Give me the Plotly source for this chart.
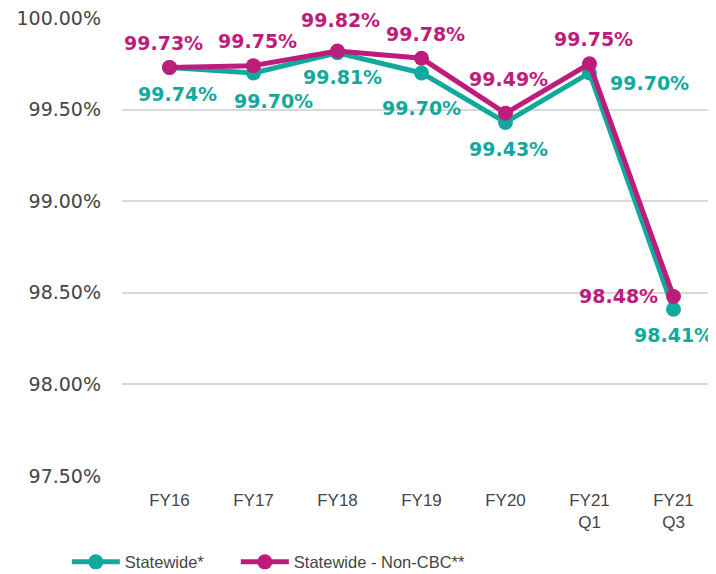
import plotly.graph_objects as go

categories = ["FY16", "FY17", "FY18", "FY19", "FY20", "FY21<br>Q1", "FY21<br>Q3"]
statewide = [99.73, 99.70, 99.81, 99.70, 99.43, 99.70, 98.41]
statewide_labels = ["99.74%", "99.70%", "99.81%", "99.70%", "99.43%", "99.70%", "98.41%"]
noncbc = [99.73, 99.74, 99.82, 99.78, 99.48, 99.75, 98.48]
noncbc_labels = ["99.73%", "99.75%", "99.82%", "99.78%", "99.49%", "99.75%", "98.48%"]
y_ticks = [97.5, 98.0, 98.5, 99.0, 99.5, 100.0]

TEAL = "#12A99D"
MAGENTA = "#BE1C7B"
LABEL_FONT = "DejaVu Sans"
YTICK_FONT = "DejaVu Sans"
NARROW_FONT = "Liberation Sans Narrow, Arial Narrow, Liberation Sans"
GREY = "#454545"

# label offsets (pixels, x right / y down)
teal_off = [(8, 27), (20, 28), (5, 24), (0, 35), (3, 27), (60, 10), (0, 26)]
mag_off = [(-6, -24), (4, -25), (3, -31), (4, -24), (3, -34), (4, -25), (-55, 0)]

fig = go.Figure()
fig.add_trace(go.Scatter(x=categories, y=statewide, mode="lines+markers", name="Statewide*",
                         line=dict(color=TEAL, width=5), marker=dict(size=15, color=TEAL),
                         legend="legend"))
fig.add_trace(go.Scatter(x=categories, y=noncbc, mode="lines+markers", name="Statewide - Non-CBC**",
                         line=dict(color=MAGENTA, width=5), marker=dict(size=15, color=MAGENTA),
                         legend="legend2"))

for i, c in enumerate(categories):
    fig.add_annotation(x=c, y=statewide[i], text=statewide_labels[i], showarrow=False,
                       xshift=teal_off[i][0], yshift=-teal_off[i][1],
                       font=dict(family=LABEL_FONT, size=19, color=TEAL, weight="bold"))
    fig.add_annotation(x=c, y=noncbc[i], text=noncbc_labels[i], showarrow=False,
                       xshift=mag_off[i][0], yshift=-mag_off[i][1],
                       font=dict(family=LABEL_FONT, size=19, color=MAGENTA, weight="bold"))

legend_style = dict(orientation="h", xanchor="left", y=-0.188, yanchor="middle",
                    itemwidth=48, font=dict(family=NARROW_FONT, size=16.5, color=GREY),
                    bgcolor="rgba(0,0,0,0)")

fig.update_layout(
    width=708, height=566,
    margin=dict(l=114, r=1, t=10, b=98, autoexpand=False),
    paper_bgcolor="white", plot_bgcolor="white",
    font=dict(family=NARROW_FONT, color=GREY, size=18),
    showlegend=True,
    legend=dict(x=-0.093, **legend_style),
    legend2=dict(x=0.192, **legend_style),
    xaxis=dict(type="category", showgrid=False, zeroline=False, showline=False,
               ticks="", automargin=False, ticklabelstandoff=12,
               tickfont=dict(family=NARROW_FONT, size=17, color=GREY)),
    yaxis=dict(range=[97.5, 100.0], tickvals=y_ticks,
               ticktext=[f"{v:.2f}%" for v in y_ticks],
               showgrid=True, gridcolor="#D9D9D9", gridwidth=2, zeroline=False,
               showline=False, ticks="", ticklabelstandoff=20, automargin=False,
               ticklabeloverflow="allow",
               tickfont=dict(family=YTICK_FONT, size=19, color=GREY)),
)

fig.write_html("out.html")
